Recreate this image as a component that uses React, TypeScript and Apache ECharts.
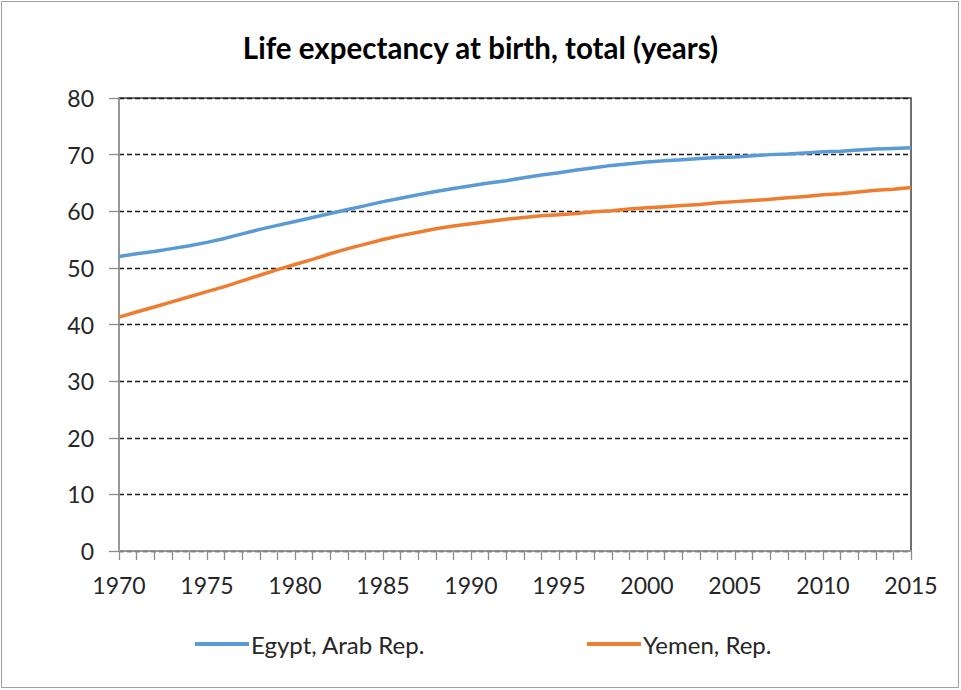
import React, { useEffect, useRef } from "react";
import * as echarts from "echarts";

const years: string[] = [];
for (let y = 1970; y <= 2015; y++) years.push(String(y));

const egypt = [
  52.0, 52.5, 52.9, 53.4, 53.9, 54.5, 55.2, 56.0, 56.8, 57.5,
  58.2, 58.9, 59.6, 60.3, 61.0, 61.7, 62.3, 62.9, 63.5, 64.0,
  64.5, 65.0, 65.4, 65.9, 66.4, 66.8, 67.3, 67.7, 68.1, 68.4,
  68.7, 68.9, 69.1, 69.3, 69.5, 69.6, 69.8, 70.0, 70.1, 70.3,
  70.5, 70.6, 70.8, 71.0, 71.1, 71.2,
];

const yemen = [
  41.3, 42.2, 43.1, 44.0, 44.9, 45.8, 46.7, 47.7, 48.7, 49.7,
  50.6, 51.5, 52.5, 53.4, 54.2, 55.0, 55.7, 56.3, 56.9, 57.4,
  57.8, 58.2, 58.6, 58.9, 59.2, 59.4, 59.6, 59.9, 60.1, 60.4,
  60.6, 60.8, 61.0, 61.2, 61.5, 61.7, 61.9, 62.1, 62.4, 62.6,
  62.9, 63.1, 63.4, 63.7, 63.9, 64.2,
];

const seriesNames = ["Egypt, Arab Rep.", "Yemen, Rep."];
const colors = ["#5B9BD5", "#ED7D31"];
const title = "Life expectancy at birth, total (years)";

export default function App() {
  const ref = useRef<HTMLDivElement>(null);
  useEffect(() => {
    if (!ref.current) return;
    const chart = echarts.init(ref.current, undefined, { renderer: "svg" });
    const font = "Lato, 'Open Sans', sans-serif";
    chart.setOption({
      animation: false,
      backgroundColor: "#ffffff",
      title: {
        text: title,
        left: "center",
        top: 27,
        textStyle: { fontFamily: font, fontSize: 29.5, fontWeight: "bold", color: "#000" },
      },
      graphic: [
        {
          type: "rect",
          shape: { x: 1.5, y: 1.5, width: 957, height: 686 },
          style: { fill: "none", stroke: "#a0a0a0", lineWidth: 1 },
          silent: true,
        },
      ],
      legend: [
        {
          data: [seriesNames[0]],
          left: 190,
          top: 627,
          itemWidth: 54,
          itemHeight: 4,
          icon: "rect",
          textStyle: { fontFamily: font, fontSize: 24, color: "#262626", padding: [0, 0, 0, -3] },
        },
        {
          data: [seriesNames[1]],
          left: 582,
          top: 627,
          itemWidth: 54,
          itemHeight: 4,
          icon: "rect",
          textStyle: { fontFamily: font, fontSize: 24, color: "#262626", padding: [0, 0, 0, -3] },
        },
      ],
      grid: {
        left: 119,
        right: 50,
        top: 98,
        bottom: 139,
        show: true,
        borderColor: "#404040",
        borderWidth: 1.5,
      },
      xAxis: {
        type: "category",
        data: years,
        boundaryGap: false,
        axisLine: { lineStyle: { color: "#a6a6a6", width: 1.5 } },
        axisTick: { show: true, interval: 0, length: 9, lineStyle: { color: "#8c8c8c", width: 1.3 } },
        axisLabel: {
          interval: 4,
          margin: 22,
          fontFamily: font,
          fontSize: 23,
          color: "#262626",
        },
        splitLine: { show: false },
      },
      yAxis: {
        type: "value",
        min: 0,
        max: 80,
        interval: 10,
        axisLine: { show: true, lineStyle: { color: "#a6a6a6", width: 1.5 } },
        axisTick: { show: true, length: 10, lineStyle: { color: "#8c8c8c", width: 1.3 } },
        axisLabel: {
          margin: 25,
          fontFamily: font,
          fontSize: 23,
          color: "#262626",
        },
        splitLine: {
          show: true,
          lineStyle: { color: "#1a1a1a", type: [5, 3], width: 1.4 },
        },
      },
      series: [
        {
          name: seriesNames[0],
          type: "line",
          data: egypt,
          showSymbol: false,
          symbol: "none",
          lineStyle: { color: colors[0], width: 3.5 },
          itemStyle: { color: colors[0] },
        },
        {
          name: seriesNames[1],
          type: "line",
          data: yemen,
          showSymbol: false,
          symbol: "none",
          lineStyle: { color: colors[1], width: 3.5 },
          itemStyle: { color: colors[1] },
        },
      ],
    });
    return () => chart.dispose();
  }, []);
  return (
    <div
      ref={ref}
      style={{ position: "fixed", left: 0, top: 0, width: 961, height: 690 }}
    />
  );
}
